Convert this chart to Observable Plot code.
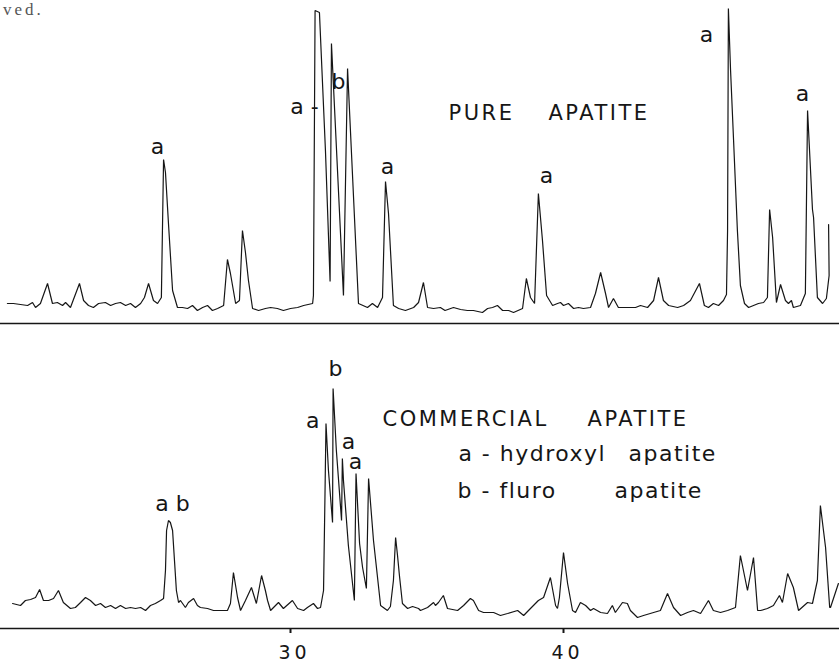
<!DOCTYPE html>
<html>
<head>
<meta charset="utf-8">
<script src="https://cdn.jsdelivr.net/npm/d3@7"></script>
<script src="https://cdn.jsdelivr.net/npm/@observablehq/plot@0.6"></script>
<style>
  body { margin: 0; background: #fff; }
  #chart { position: relative; width: 839px; height: 663px; font-family: "DejaVu Sans", sans-serif; }
  #chart svg { display: block; }
  .note { position: absolute; left: 3px; top: 0; font: 17px/19px "Liberation Serif", serif; color: #555; letter-spacing: 3px; }
</style>
</head>
<body>
<div id="chart"><div class="note">ved.</div></div>
<script>
// X-ray diffraction patterns: [2θ (degrees), relative intensity]
const purePattern = [
  [19.63,20],[19.85,20],[20.11,19],[20.37,18],[20.55,21],[20.66,16],[20.84,20],[21.10,40],[21.28,20],[21.46,21],
  [21.65,18],[21.76,21],[21.94,16],[22.27,40],[22.42,23],[22.60,18],[22.78,16],[22.97,20],[23.22,21],[23.41,18],
  [23.59,20],[23.77,21],[23.96,18],[24.14,20],[24.32,16],[24.51,20],[24.65,26],[24.80,40],[24.98,23],[25.13,20],
  [25.27,26],[25.35,164],[25.42,151],[25.53,100],[25.68,33],[25.86,16],[26.04,16],[26.23,15],[26.41,18],[26.59,13],
  [26.78,16],[26.96,18],[27.14,13],[27.33,15],[27.55,18],[27.69,64],[27.80,50],[27.99,20],[28.13,23],[28.24,93],
  [28.35,71],[28.46,43],[28.61,15],[28.83,13],[29.08,15],[29.27,16],[29.52,15],[29.74,13],[30.00,15],[30.26,16],
  [30.48,18],[30.81,20],[30.84,28],[30.90,313],[31.06,311],[31.28,173],[31.45,42],[31.50,280],[31.94,28],[32.09,255],
  [32.49,20],[32.82,16],[33.00,20],[33.19,16],[33.37,26],[33.48,142],[33.59,110],[33.77,18],[33.96,15],[34.21,13],
  [34.51,16],[34.69,21],[34.87,41],[35.02,16],[35.24,15],[35.49,16],[35.66,13],[35.97,16],[36.23,14],[36.48,13],
  [36.70,13],[37.03,11],[37.22,15],[37.40,16],[37.58,18],[37.77,13],[37.99,13],[38.17,11],[38.50,15],[38.64,45],
  [38.79,26],[38.94,20],[39.08,130],[39.23,83],[39.38,28],[39.60,18],[39.78,20],[39.89,21],[40.00,18],[40.18,20],
  [40.37,15],[40.55,16],[40.73,15],[40.99,16],[41.17,30],[41.36,51],[41.54,30],[41.65,16],[41.83,25],[42.01,16],
  [42.34,16],[42.64,16],[42.82,18],[43.08,16],[43.30,23],[43.48,46],[43.66,23],[43.85,18],[44.18,16],[44.40,18],
  [44.65,23],[44.98,40],[45.16,18],[45.31,16],[45.49,20],[45.68,18],[45.86,23],[45.97,29],[46.01,93],[46.04,315],
  [46.12,253],[46.23,183],[46.37,93],[46.48,38],[46.63,20],[46.78,16],[46.96,18],[47.14,20],[47.33,21],[47.47,26],
  [47.55,114],[47.66,86],[47.80,21],[47.95,39],[48.13,23],[48.24,20],[48.35,23],[48.42,16],[48.68,18],[48.86,30],
  [48.94,213],[49.12,114],[49.16,106],[49.30,26],[49.49,20],[49.63,25],[49.73,48],[49.71,99]
];

const commercialPattern = [
  [19.82,25],[20.11,23],[20.29,28],[20.48,29],[20.66,31],[20.81,39],[20.95,28],[21.14,28],[21.32,30],[21.50,38],
  [21.68,26],[21.94,20],[22.12,21],[22.31,26],[22.49,31],[22.67,28],[22.86,23],[23.04,25],[23.22,21],[23.41,23],
  [23.59,20],[23.77,23],[23.96,20],[24.14,21],[24.32,20],[24.51,21],[24.69,18],[24.87,23],[25.05,25],[25.24,28],
  [25.35,30],[25.42,58],[25.46,98],[25.53,108],[25.60,106],[25.68,98],[25.75,68],[25.82,38],[25.90,26],[25.97,28],
  [26.15,21],[26.26,26],[26.45,30],[26.59,23],[26.70,21],[26.96,20],[27.18,18],[27.44,18],[27.69,18],[27.80,25],
  [27.91,56],[28.06,31],[28.17,18],[28.35,28],[28.57,41],[28.75,25],[28.94,53],[29.08,38],[29.16,28],[29.27,18],
  [29.56,26],[29.74,20],[30.07,28],[30.26,20],[30.48,18],[30.62,21],[30.84,25],[30.99,20],[31.10,21],[31.21,38],
  [31.26,128],[31.30,205],[31.39,158],[31.54,106],[31.56,240],[31.68,178],[31.87,108],[31.90,170],[31.94,148],[32.12,83],
  [32.34,28],[32.40,155],[32.53,85],[32.64,61],[32.78,40],[32.86,150],[33.04,88],[33.30,23],[33.55,18],[33.66,22],
  [33.77,48],[33.85,91],[33.92,73],[33.99,53],[34.10,25],[34.29,20],[34.47,22],[34.69,20],[34.76,18],[35.02,21],
  [35.24,26],[35.31,23],[35.42,26],[35.60,33],[35.75,20],[36.12,18],[36.34,23],[36.59,30],[36.70,28],[36.89,18],
  [37.07,16],[37.44,16],[37.69,13],[37.95,15],[38.32,18],[38.54,13],[38.79,20],[39.08,28],[39.27,31],[39.52,51],
  [39.71,23],[39.78,20],[39.85,31],[40.00,76],[40.15,45],[40.33,18],[40.44,16],[40.62,26],[40.81,23],[40.99,18],
  [41.10,20],[41.36,16],[41.61,15],[41.79,23],[41.90,16],[42.16,26],[42.34,25],[42.45,18],[42.71,11],[42.93,13],
  [43.30,16],[43.55,18],[43.81,35],[44.03,21],[44.29,13],[44.54,16],[44.76,18],[45.02,15],[45.31,28],[45.49,18],
  [45.75,16],[46.01,18],[46.30,21],[46.48,73],[46.74,38],[46.96,71],[47.11,18],[47.22,18],[47.47,20],[47.69,23],
  [47.91,33],[48.02,26],[48.21,55],[48.42,41],[48.61,18],[48.94,26],[49.12,25],[49.30,48],[49.41,123],[49.60,81],
  [49.75,21],[49.78,21],[50.07,45]
];

// Phase assignments above peaks: [2θ, intensity at text baseline, label]
const pureLabels = [
  [25.13,170,"a"],[30.51,210,"a -"],[31.76,235,"b"],[33.55,150,"a"],[39.38,141,"a"],[45.24,282,"a"],[48.75,223,"a"]
];
const commercialLabels = [
  [25.68,118,"a b"],[30.81,201,"a"],[31.65,253,"b"],[32.12,180,"a"],[32.38,160,"a"]
];

// Panel titles and key (left-aligned words)
const pureTitle = [[35.79,204,"PURE"],[39.45,204,"APATITE"]];
const commercialTitle = [[33.37,203,"COMMERCIAL"],[40.88,203,"APATITE"]];
const key = [[36.15,168,"a - hydroxyl"],[42.38,168,"apatite"],[36.12,131,"b - fluro"],[41.87,131,"apatite"]];

// Axis ticks (2θ)
const angleTicks = [30, 40];

const angleDomain = [19.377, 50.11];
const ink = "#161616";

const toRows = a => a.map(([x, y, t]) => ({x, y, t}));

function panel({pattern, labels, titles, extra, height, marginBottom, yMax, withAxis}) {
  const marks = [
    Plot.ruleY([0], {stroke: ink, strokeWidth: 1.6}),
    Plot.line(pattern, {x: d => d[0], y: d => d[1], stroke: ink, strokeWidth: 1.2, strokeLinejoin: "miter"}),
    Plot.text(toRows(labels), {x: "x", y: "y", text: "t", fontSize: 22, lineAnchor: "bottom", textAnchor: "middle", fill: ink}),
    Plot.text(toRows(titles), {x: "x", y: "y", text: "t", fontSize: 21, lineAnchor: "bottom", textAnchor: "start", fill: ink})
  ];
  if (extra) marks.push(Plot.text(toRows(extra), {x: "x", y: "y", text: "t", fontSize: 22, lineAnchor: "bottom", textAnchor: "start", fill: ink}));
  if (withAxis) marks.push(Plot.axisX(angleTicks, {anchor: "bottom", label: null, tickSize: 5, tickPadding: 12, fontSize: 19, stroke: ink, strokeWidth: 2, fill: ink, tickFormat: d => String(d)}));
  return Plot.plot({
    width: 839, height,
    marginLeft: 0, marginRight: 0, marginTop: 0, marginBottom,
    style: {fontFamily: "DejaVu Sans, sans-serif", background: "transparent", overflow: "visible"},
    x: {domain: angleDomain, axis: null, label: null},
    y: {domain: [0, yMax], axis: null},
    marks
  });
}

const chart = document.getElementById("chart");
const pureSvg = panel({pattern: purePattern, labels: pureLabels, titles: pureTitle, height: 335, marginBottom: 12, yMax: 323, withAxis: false});
const commercialSvg = panel({pattern: commercialPattern, labels: commercialLabels, titles: commercialTitle, extra: key, height: 328, marginBottom: 35, yMax: 293, withAxis: true});
chart.appendChild(pureSvg);
chart.appendChild(commercialSvg);

// lettering spacing, as on the hand-lettered drawing
const spaced = new Set(["PURE","APATITE","COMMERCIAL"]);
const keyWords = new Set(key.map(d => d[2]));
d3.select(chart).selectAll("svg text").each(function() {
  const s = this.textContent;
  if (spaced.has(s)) this.style.letterSpacing = "2.5px";
  else if (keyWords.has(s)) this.style.letterSpacing = "1.5px";
  else if (/^\d+$/.test(s)) { this.style.letterSpacing = "4px"; this.setAttribute("dx", "4"); }
});
</script>
</body>
</html>
